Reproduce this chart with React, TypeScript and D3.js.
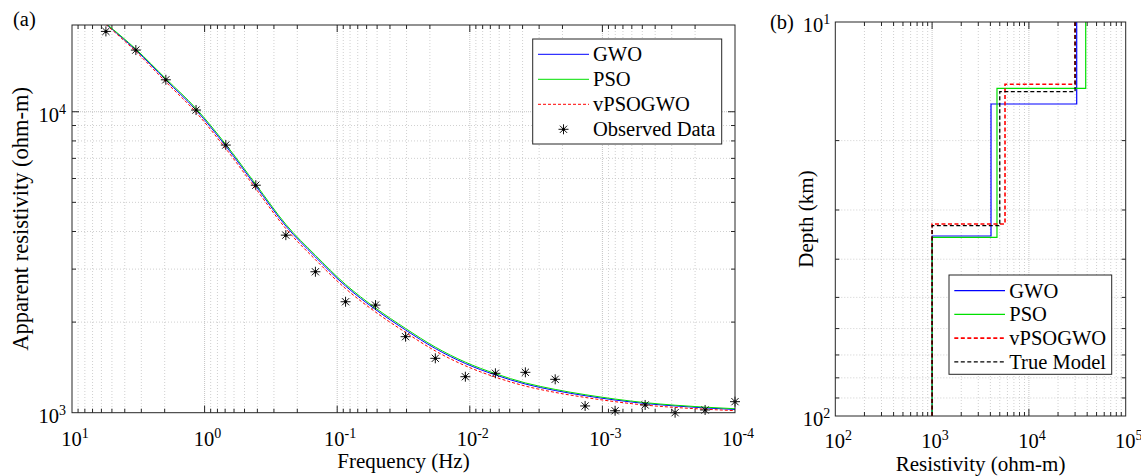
import React from "react";
import * as d3 from "d3";

// (a) sounding curve
const freqHz = [5.55, 3.3, 1.96, 1.16, 0.692, 0.411, 0.244, 0.146, 0.0865, 0.0514, 0.0305,
  0.0182, 0.0108, 0.00641, 0.00381, 0.00227, 0.00135, 0.000802, 0.000476, 0.000283, 0.000168, 0.0001];
const observedRho = [18490, 16030, 12770, 10130, 7750, 5700, 3890, 2940, 2337, 2278, 1789,
  1516, 1317, 1352, 1362, 1291, 1053, 1015, 1061, 1000, 1021, 1088];
const gwoRho = [19560, 16030, 12746, 10131, 7691, 5665, 4172, 3291, 2636, 2202, 1883,
  1634, 1457, 1335, 1245, 1185, 1139, 1102, 1073, 1053, 1037, 1025];
const psoRho = [19650, 16150, 12880, 10250, 7790, 5740, 4225, 3335, 2668, 2228, 1905,
  1652, 1472, 1348, 1256, 1195, 1148, 1110, 1080, 1059, 1043, 1031];
const vpsoRho = [19500, 15850, 12560, 9950, 7540, 5550, 4090, 3225, 2585, 2160, 1848,
  1604, 1432, 1313, 1226, 1168, 1124, 1088, 1060, 1041, 1027, 1016];

// (b) layered models: resistivity per layer, depth of interfaces (km)
const gwoLayerRho = [31180, 4060, 1000];
const gwoLayerDepth = [16.15, 34.93];
const psoLayerRho = [38620, 4680, 1000];
const psoLayerDepth = [14.74, 35.19];
const vpsoLayerRho = [29940, 5665, 1000];
const vpsoLayerDepth = [14.39, 32.55];
const trueLayerRho = [30000, 5000, 1000];
const trueLayerDepth = [15.03, 32.89];

const freqTicks = [1e1, 1e0, 1e-1, 1e-2, 1e-3, 1e-4];
const freqTickExp = ["1", "0", "-1", "-2", "-3", "-4"];
const rhoTicks = [1e3, 1e4];
const rhoTickExp = ["3", "4"];
const resTicks = [1e2, 1e3, 1e4, 1e5];
const resTickExp = ["2", "3", "4", "5"];
const depthTicks = [10, 100];
const depthTickExp = ["1", "2"];

const FONT = "'Liberation Serif', 'Times New Roman', serif";
const AX = "#262626";
const GRID = "#c4c4c4";

const minors = (lo: number, hi: number) => {
  const out: number[] = [];
  for (let k = lo; k <= hi; k++) for (let m = 2; m <= 9; m++) out.push(m * Math.pow(10, k));
  return out;
};

const Pow = ({ x, y, exp, anchor }: any) => (
  <text x={x} y={y} textAnchor={anchor} fontFamily={FONT} fontSize={20.5} fill="#000">
    10<tspan dy={-8} fontSize={14}>{exp}</tspan>
  </text>
);

const Star = ({ x, y }: any) => {
  const r = 5;
  const d = r * 0.72;
  return (
    <g stroke="#111" strokeWidth={1}>
      <line x1={x - r} y1={y} x2={x + r} y2={y} />
      <line x1={x} y1={y - r} x2={x} y2={y + r} />
      <line x1={x - d} y1={y - d} x2={x + d} y2={y + d} />
      <line x1={x - d} y1={y + d} x2={x + d} y2={y - d} />
      <circle cx={x} cy={y} r={1.5} fill="#000" stroke="none" />
    </g>
  );
};

function Frame({ sx, sy, xMinor, yMinor, xMajor, yMajor, box }: any) {
  const [x0, x1, y0, y1] = box;
  const inX = (v: number) => sx(v) > x0 + 0.5 && sx(v) < x1 - 0.5;
  const inY = (v: number) => sy(v) > y0 + 0.5 && sy(v) < y1 - 0.5;
  return (
    <g>
      {xMinor.filter(inX).map((v: number, i: number) => (
        <g key={"xm" + i}>
          <line x1={sx(v)} x2={sx(v)} y1={y0} y2={y1} stroke={GRID} strokeWidth={0.8} strokeDasharray="1,2" />
          <line x1={sx(v)} x2={sx(v)} y1={y1} y2={y1 - 4} stroke={AX} />
          <line x1={sx(v)} x2={sx(v)} y1={y0} y2={y0 + 4} stroke={AX} />
        </g>
      ))}
      {xMajor.filter(inX).map((v: number, i: number) => (
        <g key={"xM" + i}>
          <line x1={sx(v)} x2={sx(v)} y1={y0} y2={y1} stroke={GRID} strokeWidth={1} strokeDasharray="1,1" />
          <line x1={sx(v)} x2={sx(v)} y1={y1} y2={y1 - 7} stroke={AX} />
          <line x1={sx(v)} x2={sx(v)} y1={y0} y2={y0 + 7} stroke={AX} />
        </g>
      ))}
      {yMinor.filter(inY).map((v: number, i: number) => (
        <g key={"ym" + i}>
          <line x1={x0} x2={x1} y1={sy(v)} y2={sy(v)} stroke={GRID} strokeWidth={0.8} strokeDasharray="1,2" />
          <line x1={x0} x2={x0 + 4} y1={sy(v)} y2={sy(v)} stroke={AX} />
          <line x1={x1} x2={x1 - 4} y1={sy(v)} y2={sy(v)} stroke={AX} />
        </g>
      ))}
      {yMajor.filter(inY).map((v: number, i: number) => (
        <g key={"yM" + i}>
          <line x1={x0} x2={x1} y1={sy(v)} y2={sy(v)} stroke={GRID} strokeWidth={1} strokeDasharray="1,1" />
          <line x1={x0} x2={x0 + 7} y1={sy(v)} y2={sy(v)} stroke={AX} />
          <line x1={x1} x2={x1 - 7} y1={sy(v)} y2={sy(v)} stroke={AX} />
        </g>
      ))}
    </g>
  );
}

export default function App() {
  // ---- panel (a)
  const A = { x0: 72, x1: 735, y0: 25, y1: 412.7 };
  const fx = d3.scaleLog().domain([10, 1e-4]).range([A.x0, A.x1]);
  const fy = d3.scaleLog().domain([1000, 19420]).range([A.y1, A.y0]);
  const curve = d3.line<[number, number]>()
    .x(d => fx(d[0]))
    .y(d => fy(d[1]))
    .curve(d3.curveMonotoneX);
  const curves = [
    { name: "GWO", vals: gwoRho, color: "#0000ff", dash: undefined },
    { name: "PSO", vals: psoRho, color: "#00e000", dash: undefined },
    { name: "vPSOGWO", vals: vpsoRho, color: "#ff0000", dash: "3,2" },
  ];

  // ---- panel (b)
  const B = { x0: 835.3, x1: 1125.7, y0: 22, y1: 416 };
  const rx = d3.scaleLog().domain([100, 1e5]).range([B.x0, B.x1]);
  const ry = d3.scaleLog().domain([10, 100]).range([B.y0, B.y1]);
  const [dTop, dBot] = ry.domain();
  const stepLine = d3.line<[number, number]>().x(d => rx(d[0])).y(d => ry(d[1]));
  const stepPts = (rho: number[], dep: number[]): [number, number][] => [
    [rho[0], dTop], [rho[0], dep[0]], [rho[1], dep[0]], [rho[1], dep[1]], [rho[2], dep[1]], [rho[2], dBot],
  ];
  const models = [
    { name: "GWO", rho: gwoLayerRho, dep: gwoLayerDepth, color: "#0000ff", dash: undefined, w: 1.2 },
    { name: "PSO", rho: psoLayerRho, dep: psoLayerDepth, color: "#00e000", dash: undefined, w: 1.2 },
    { name: "vPSOGWO", rho: vpsoLayerRho, dep: vpsoLayerDepth, color: "#ff0000", dash: "4,2.5", w: 1.6 },
    { name: "True Model", rho: trueLayerRho, dep: trueLayerDepth, color: "#000000", dash: "4,2.5", w: 1.3 },
  ];

  return (
    <svg width={1141} height={476} style={{ position: "absolute", left: 0, top: 0, display: "block" }} fontFamily={FONT}>
      <rect x={0} y={0} width={1141} height={476} fill="#fff" />
      <defs>
        <clipPath id="clipA"><rect x={A.x0} y={A.y0} width={A.x1 - A.x0} height={A.y1 - A.y0} /></clipPath>
        <clipPath id="clipB"><rect x={B.x0} y={B.y0} width={B.x1 - B.x0} height={B.y1 - B.y0} /></clipPath>
      </defs>
      {/* panel (a) */}
      <text x={13} y={26} fontSize={20.5}>(a)</text>
      <Frame sx={fx} sy={fy} xMinor={minors(-4, 0)} yMinor={minors(3, 3)} xMajor={freqTicks} yMajor={rhoTicks}
        box={[A.x0, A.x1, A.y0, A.y1]} />
      <g clipPath="url(#clipA)">
        {curves.map(c => (
          <path key={c.name} d={curve(freqHz.map((f, i) => [f, c.vals[i]] as [number, number])) || ""}
            fill="none" stroke={c.color} strokeWidth={1} strokeDasharray={c.dash} />
        ))}
      </g>
      {freqHz.map((f, i) => <Star key={i} x={fx(f)} y={fy(observedRho[i])} />)}
      <rect x={A.x0} y={A.y0} width={A.x1 - A.x0} height={A.y1 - A.y0} fill="none" stroke={AX} strokeWidth={1} />
      {freqTicks.map((v, i) => <Pow key={i} x={fx(v) + 3} y={A.y1 + 33} exp={freqTickExp[i]} anchor="middle" />)}
      {rhoTicks.map((v, i) => <Pow key={i} x={A.x0 - 6} y={fy(v) + 10} exp={rhoTickExp[i]} anchor="end" />)}
      <text x={(A.x0 + A.x1) / 2} y={468} fontSize={21} textAnchor="middle">Frequency (Hz)</text>
      <text transform={`translate(28,${(A.y0 + A.y1) / 2}) rotate(-90)`} fontSize={22.5} textAnchor="middle">Apparent resistivity (ohm-m)</text>
      {/* legend (a) */}
      <g>
        <rect x={532.7} y={39} width={189} height={105} fill="#fff" stroke={AX} strokeWidth={1} />
        {curves.map((c, i) => (
          <g key={c.name}>
            <line x1={538} x2={589} y1={54.3 + i * 25} y2={54.3 + i * 25} stroke={c.color} strokeWidth={1} strokeDasharray={c.dash} />
            <text x={593} y={61 + i * 25} fontSize={20.5}>{c.name}</text>
          </g>
        ))}
        <Star x={563.5} y={129.3} />
        <text x={593} y={136} fontSize={20.5}>Observed Data</text>
      </g>

      {/* panel (b) */}
      <text x={770} y={29} fontSize={20.5}>(b)</text>
      <Frame sx={rx} sy={ry} xMinor={minors(2, 4)} yMinor={minors(1, 1)} xMajor={resTicks} yMajor={depthTicks}
        box={[B.x0, B.x1, B.y0, B.y1]} />
      <g clipPath="url(#clipB)">
        {models.map(m => (
          <path key={m.name} d={stepLine(stepPts(m.rho, m.dep)) || ""} fill="none" stroke={m.color}
            strokeWidth={m.w} strokeDasharray={m.dash} />
        ))}
      </g>
      <rect x={B.x0} y={B.y0} width={B.x1 - B.x0} height={B.y1 - B.y0} fill="none" stroke={AX} strokeWidth={1} />
      {resTicks.map((v, i) => <Pow key={i} x={rx(v) + 3} y={B.y1 + 32} exp={resTickExp[i]} anchor="middle" />)}
      {depthTicks.map((v, i) => <Pow key={i} x={B.x0 - 5} y={ry(v) + 10} exp={depthTickExp[i]} anchor="end" />)}
      <text x={(B.x0 + B.x1) / 2} y={471} fontSize={21} textAnchor="middle">Resistivity (ohm-m)</text>
      <text transform={`translate(813,${(B.y0 + B.y1) / 2}) rotate(-90)`} fontSize={21} textAnchor="middle">Depth (km)</text>
      {/* legend (b) */}
      <g>
        <rect x={949} y={275} width={162.7} height={99.3} fill="#fff" stroke={AX} strokeWidth={1} />
        {models.map((m, i) => (
          <g key={m.name}>
            <line x1={954.3} x2={1005} y1={290.7 + i * 23.7} y2={290.7 + i * 23.7} stroke={m.color}
              strokeWidth={m.w} strokeDasharray={m.dash} />
            <text x={1009.3} y={297.5 + i * 23.7} fontSize={20.5}>{m.name}</text>
          </g>
        ))}
      </g>
    </svg>
  );
}
